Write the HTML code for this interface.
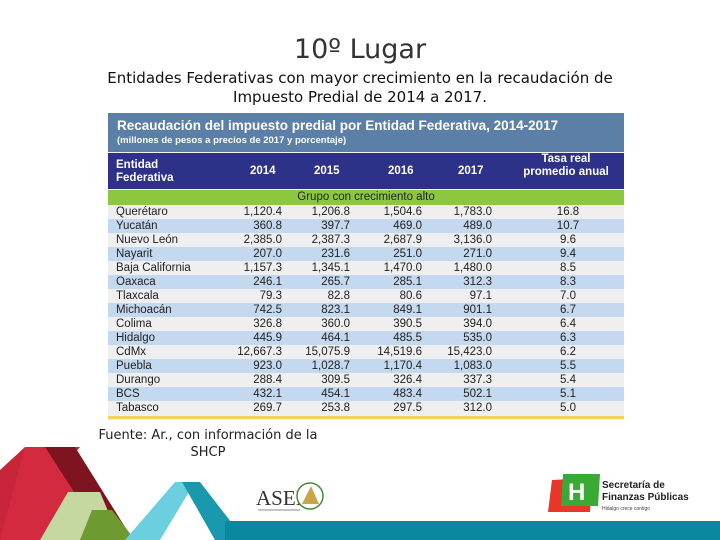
<!DOCTYPE html>
<html><head><meta charset="utf-8">
<style>
body{margin:0;width:720px;height:540px;background:#fff;position:relative;overflow:hidden;font-family:"Liberation Sans",sans-serif}
.t{position:absolute;left:0;width:720px;text-align:center}
#tbl{position:absolute;left:108px;top:113px;width:516px;height:307px;background:#f0f0f0}
.cell{position:absolute;font-size:11.5px;color:#222;line-height:14px}
</style></head><body>
<div class="t" style="top:34px;font-size:27px;color:#333;font-family:'DejaVu Sans',sans-serif">10º Lugar</div>
<div class="t" style="top:69px;font-size:15px;color:#111;line-height:19px;font-family:'DejaVu Sans',sans-serif">Entidades Federativas con mayor crecimiento en la recaudación de<br>Impuesto Predial de 2014 a 2017.</div>
<div id="tbl">
 <div style="position:absolute;left:0;top:0;width:516px;height:39px;background:#5b7fa6;color:#fff">
  <div style="position:absolute;left:9px;top:5px;font-size:13.5px;font-weight:bold">Recaudación del impuesto predial por Entidad Federativa, 2014-2017</div>
  <div style="position:absolute;left:9px;top:22px;font-size:9.5px;font-weight:bold">(millones de pesos a precios de 2017 y porcentaje)</div>
 </div>
 <div style="position:absolute;left:0;top:40px;width:516px;height:36px;background:#2d3187;color:#fff;font-weight:bold;font-size:11.5px">
  <div style="position:absolute;left:8px;top:6px;line-height:13px">Entidad<br>Federativa</div>
  <div style="position:absolute;left:142px;top:12px">2014</div>
  <div style="position:absolute;left:206px;top:12px">2015</div>
  <div style="position:absolute;left:280px;top:12px">2016</div>
  <div style="position:absolute;left:350px;top:12px">2017</div>
  <div style="position:absolute;left:408px;top:0px;width:100px;text-align:center;line-height:13px">Tasa real<br>promedio anual</div>
 </div>
 <div style="position:absolute;left:0;top:77px;width:516px;height:15px;background:#8dc63f;text-align:center;font-size:11.5px;line-height:15px;color:#222">Grupo con crecimiento alto</div>
 <div id="rows"></div>
 <div style="position:absolute;left:0;top:303px;width:516px;height:3px;background:#f2d25a"></div>
</div>
<div style="position:absolute;left:88px;top:427px;width:240px;text-align:center;font-size:13px;line-height:17px;color:#222;font-family:'DejaVu Sans',sans-serif">Fuente: Ar., con información de la SHCP</div>
<svg style="position:absolute;left:0;top:0" width="720" height="540">
 <polygon points="0,470 25,447 80,447 0,540" fill="#c8243a"/>
 <polygon points="25,447 75,447 130,540 0,540" fill="#d42a3f"/>
 <polygon points="45,447 75,447 130,535 105,540" fill="#7e1420"/>
 <polygon points="68,492 100,492 120,540 40,540" fill="#c5d8a0"/>
 <polygon points="92,510 112,510 135,540 80,540" fill="#6e9a32"/>
 <polygon points="175,482 195,482 160,540 125,540" fill="#6bcfe0"/>
 <polygon points="182,482 200,482 245,540 215,540" fill="#1a98ad"/>
 <rect x="225" y="521" width="495" height="19" fill="#0b87a0"/>
 <text x="256" y="505" font-family="Liberation Serif" font-size="21" fill="#333">ASEI</text>
 <circle cx="310" cy="496" r="13" fill="#fff" stroke="#4a8a3a" stroke-width="1.5"/>
 <polygon points="302,504 311,486 319,504" fill="#c9a54a"/>
 <line x1="258" y1="510" x2="300" y2="510" stroke="#888" stroke-width="1"/>
 <polygon points="552,480 592,478 590,512 548,512" fill="#e8362a"/>
 <polygon points="563,474 600,474 598,506 561,506" fill="#3aa935"/>
 <text x="568" y="500" font-size="24" font-weight="bold" fill="#fff" font-family="Liberation Sans">H</text>
 <text x="602" y="488" font-size="10" font-weight="bold" fill="#222" font-family="Liberation Sans">Secretaría de</text>
 <text x="602" y="500" font-size="10" font-weight="bold" fill="#222" font-family="Liberation Sans">Finanzas Públicas</text>
 <text x="602" y="510" font-size="5" fill="#444" font-family="Liberation Sans">Hidalgo crece contigo</text>
</svg>
<script>
const states=["Querétaro","Yucatán","Nuevo León","Nayarit","Baja California","Oaxaca","Tlaxcala","Michoacán","Colima","Hidalgo","CdMx","Puebla","Durango","BCS","Tabasco"];
const y2014=["1,120.4","360.8","2,385.0","207.0","1,157.3","246.1","79.3","742.5","326.8","445.9","12,667.3","923.0","288.4","432.1","269.7"];
const y2015=["1,206.8","397.7","2,387.3","231.6","1,345.1","265.7","82.8","823.1","360.0","464.1","15,075.9","1,028.7","309.5","454.1","253.8"];
const y2016=["1,504.6","469.0","2,687.9","251.0","1,470.0","285.1","80.6","849.1","390.5","485.5","14,519.6","1,170.4","326.4","483.4","297.5"];
const y2017=["1,783.0","489.0","3,136.0","271.0","1,480.0","312.3","97.1","901.1","394.0","535.0","15,423.0","1,083.0","337.3","502.1","312.0"];
const rate=["16.8","10.7","9.6","9.4","8.5","8.3","7.0","6.7","6.4","6.3","6.2","5.5","5.4","5.1","5.0"];
const rows=document.getElementById('rows');
const top0=92,rh=14;
function cell(row,txt,left,width,align){
 const d=document.createElement('div');d.className='cell';
 d.style.left=left+'px';d.style.width=width+'px';d.style.top='0px';d.style.textAlign=align;d.textContent=txt;row.appendChild(d);return d;}
states.forEach((s,i)=>{
 const r=document.createElement('div');
 
 
 r.style.cssText='position:absolute;left:0;width:516px;height:'+rh+'px;top:'+(top0+i*rh)+'px;background:'+(i%2?'#c4d9ef':'#efefef');
 cell(r,s,8,120,'left');
 cell(r,y2014[i],100,74,'right');
 cell(r,y2015[i],170,72,'right');
 cell(r,y2016[i],240,74,'right');
 cell(r,y2017[i],310,74,'right');
 cell(r,rate[i],410,100,'center');
 rows.appendChild(r);
});
</script>
</body></html>
